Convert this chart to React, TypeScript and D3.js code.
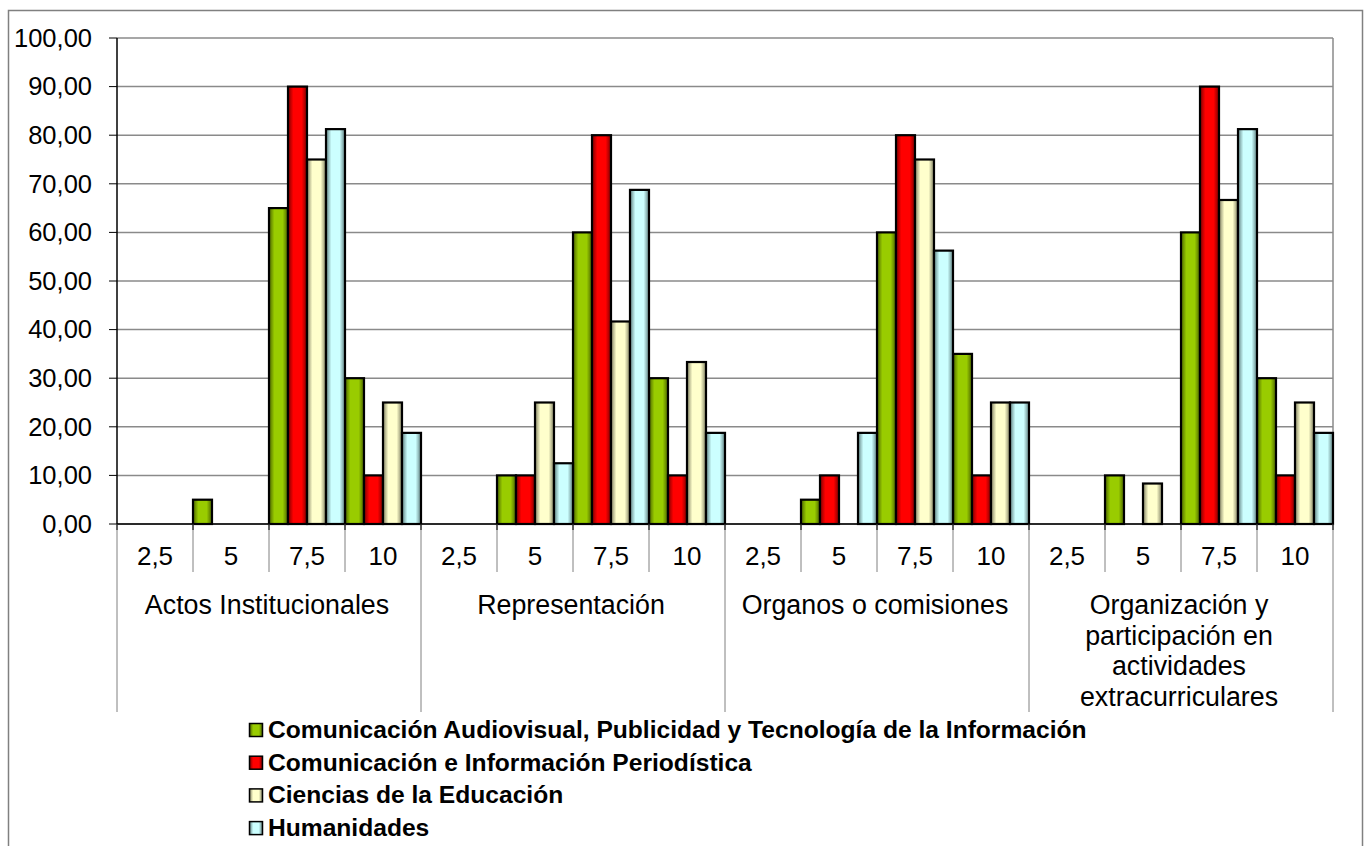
import React from "react";
import * as d3 from "d3";

const groups: string[][] = [
  ["Actos Institucionales"],
  ["Representación"],
  ["Organos o comisiones"],
  ["Organización y", "participación en", "actividades", "extracurriculares"],
];
const levels = ["2,5", "5", "7,5", "10"];
const seriesNames = [
  "Comunicación Audiovisual, Publicidad y Tecnología de la Información",
  "Comunicación e Información Periodística",
  "Ciencias de la Educación",
  "Humanidades",
];
const audiovisual = [0, 5, 65, 30, 0, 10, 60, 30, 0, 5, 60, 35, 0, 10, 60, 30];
const periodistica = [0, 0, 90, 10, 0, 10, 80, 10, 0, 10, 80, 10, 0, 0, 90, 10];
const educacion = [0, 0, 75, 25, 0, 25, 41.67, 33.33, 0, 0, 75, 25, 0, 8.33, 66.67, 25];
const humanidades = [0, 0, 81.25, 18.75, 0, 12.5, 68.75, 18.75, 0, 18.75, 56.25, 25, 0, 0, 81.25, 18.75];
const yTicks = [0, 10, 20, 30, 40, 50, 60, 70, 80, 90, 100];

const seriesValues = [audiovisual, periodistica, educacion, humanidades];
const baseColors = ["#99CC00", "#FF0000", "#FFFFCC", "#CCFFFF"];
const darkColors = ["#4A6300", "#7A0000", "#7F7F62", "#5F7F7F"];

const FONT = "'Liberation Sans', Arial, sans-serif";

export default function App() {
  const W = 1365;
  const H = 846;
  const left = 117;
  const right = 1333;
  const top = 38;
  const bottom = 524;

  const cats = d3.range(groups.length * levels.length);
  const x0 = d3.scaleBand<number>().domain(cats).range([left, right]).padding(0);
  const x1 = d3
    .scaleBand<number>()
    .domain(d3.range(seriesValues.length))
    .range([0, x0.bandwidth()])
    .padding(0);
  const y = d3.scaleLinear().domain([0, 100]).range([bottom, top]);
  const fmt = (v: number) => d3.format(".2f")(v).replace(".", ",");
  const gx = d3
    .scaleBand<number>()
    .domain(d3.range(groups.length))
    .range([left, right])
    .padding(0);

  const boundaries = cats.map((c) => x0(c) as number).concat([right]);

  return (
    <svg
      width={W}
      height={H}
      style={{ position: "absolute", left: 0, top: 0, background: "#fff" }}
      fontFamily={FONT}
    >
      <defs>
        {baseColors.map((c, i) => (
          <linearGradient key={i} id={`g${i}`} x1="0" x2="1" y1="0" y2="0">
            <stop offset="0" stopColor={darkColors[i]} />
            <stop offset="0.28" stopColor={c} />
            <stop offset="0.72" stopColor={c} />
            <stop offset="1" stopColor={darkColors[i]} />
          </linearGradient>
        ))}
      </defs>
      <rect x={0} y={0} width={W} height={H} fill="#fff" />
      <rect x={8.5} y={10.5} width={1354} height={900} fill="none" stroke="#808080" strokeWidth={1.5} />

      {/* gridlines */}
      {yTicks.map((t) => (
        <line key={t} x1={left} x2={right} y1={y(t)} y2={y(t)} stroke="#8a8a8a" strokeWidth={1.5} />
      ))}
      <line x1={right} x2={right} y1={top} y2={bottom} stroke="#8a8a8a" strokeWidth={1.5} />

      {/* y labels */}
      {yTicks.map((t) => (
        <g key={t}>
          <line x1={109} x2={left} y1={y(t)} y2={y(t)} stroke="#000" strokeWidth={1} />
          <text x={92} y={y(t) + 8.8} textAnchor="end" fontSize={25.5} fill="#000">
            {fmt(t)}
          </text>
        </g>
      ))}

      {/* bars */}
      {seriesValues.map((vals, si) =>
        vals.map((v, ci) =>
          v > 0 ? (
            <rect
              key={`${si}-${ci}`}
              x={(x0(ci) as number) + (x1(si) as number)}
              y={y(v)}
              width={x1.bandwidth()}
              height={y(0) - y(v)}
              fill={`url(#g${si})`}
              stroke="#000"
              strokeWidth={2.2}
            />
          ) : null
        )
      )}

      {/* axes */}
      <line x1={left} x2={left} y1={top} y2={bottom} stroke="#000" strokeWidth={1.5} />
      <line x1={left} x2={right} y1={bottom} y2={bottom} stroke="#000" strokeWidth={1.5} />

      {/* category separators */}
      {boundaries.map((bx, i) => {
        const isGroup = i % levels.length === 0;
        return (
          <g key={i}>
            <line x1={bx} x2={bx} y1={bottom} y2={isGroup ? 712 : 572} stroke="#808080" strokeWidth={1} />
            <line x1={bx} x2={bx} y1={bottom} y2={bottom + 6} stroke="#000" strokeWidth={1} />
          </g>
        );
      })}

      {/* sub-category labels */}
      {cats.map((c) => (
        <text
          key={c}
          x={(x0(c) as number) + x0.bandwidth() / 2}
          y={565}
          textAnchor="middle"
          fontSize={26}
          fill="#000"
        >
          {levels[c % levels.length]}
        </text>
      ))}

      {/* group labels */}
      {groups.map((lines, gi) => (
        <text
          key={gi}
          x={(gx(gi) as number) + gx.bandwidth() / 2}
          y={614}
          textAnchor="middle"
          fontSize={26.8}
          fill="#000"
        >
          {lines.map((ln, li) => (
            <tspan key={li} x={(gx(gi) as number) + gx.bandwidth() / 2 - 2} dy={li === 0 ? 0 : 30.5}>
              {ln}
            </tspan>
          ))}
        </text>
      ))}

      {/* legend */}
      {seriesNames.map((name, i) => (
        <g key={i} transform={`translate(0, ${i * 32.7})`}>
          <rect x={249.5} y={723.5} width={13} height={13} fill={`url(#g${i})`} stroke="#000" strokeWidth={1.5} />
          <text x={268} y={738} fontSize={24.6} fontWeight="bold" fill="#000">
            {name}
          </text>
        </g>
      ))}
    </svg>
  );
}
